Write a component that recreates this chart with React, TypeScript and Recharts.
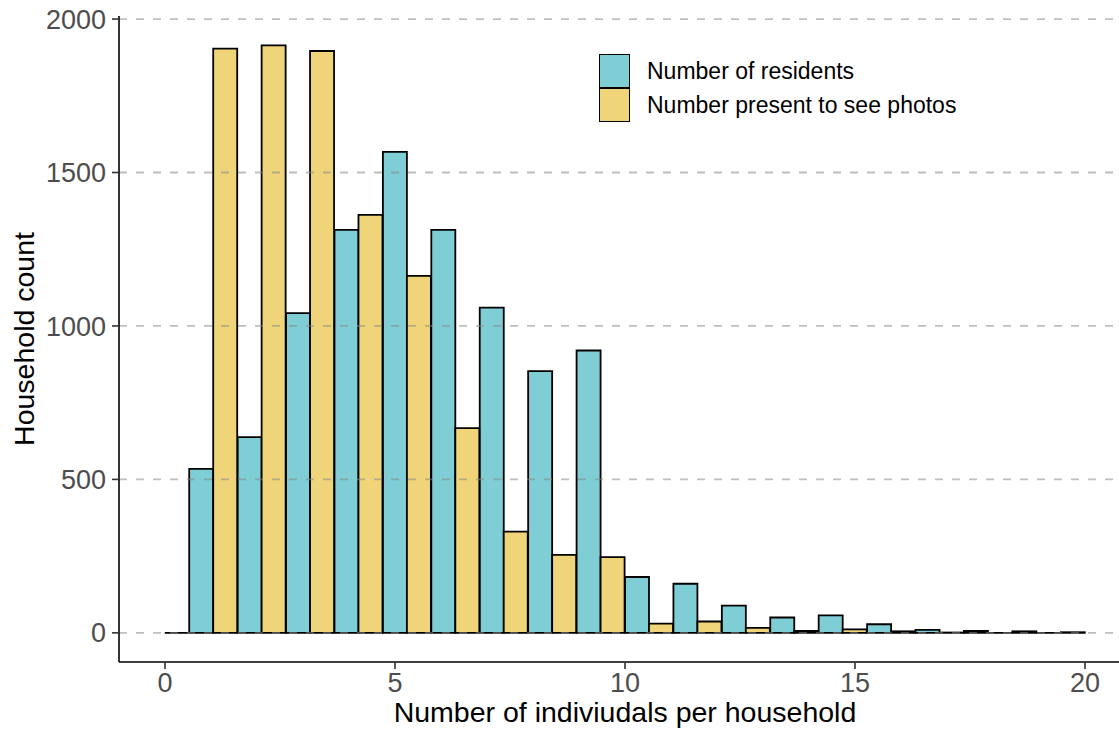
import React from "react";
import {
  BarChart,
  Bar,
  XAxis,
  YAxis,
  Legend,
  ReferenceLine,
} from "recharts";

// histogram bins (bin centres, 20 bins over 0..20)
const binCenters = [0, 1.05, 2.11, 3.16, 4.21, 5.26, 6.32, 7.37, 8.42, 9.47, 10.53, 11.58, 12.63, 13.68, 14.74, 15.79, 16.84, 17.89, 18.95, 20];
const residents = [null, 534, 638, 1042, 1313, 1567, 1313, 1060, 853, 920, 182, 160, 89, 50, 57, 28, 10, 6, 5, 2];
const present = [0, 1904, 1914, 1896, 1362, 1163, 667, 330, 254, 247, 30, 37, 16, 6, 11, 5, 1, 0, 0, null];

const yTicks = [0, 500, 1000, 1500, 2000];
const xTicks = [0, 5, 10, 15, 20];

const TEAL = "#7FCDD5";
const YELLOW = "#EFD47A";
const FONT = "'Liberation Sans', Arial, sans-serif";

const data = binCenters.map((c, i) => ({
  bin: i,
  center: c,
  residents: residents[i],
  present: present[i],
}));

// plot area: 119..1131 horizontally, 22 units wide (-1..21)
const PLOT_W = 1012;
const PAD = (PLOT_W / 22) * (1 - 10 / 19);

const barShape = (key: string) => (props: any) => {
  const { x, y, width, height, fill, payload } = props;
  if (payload == null || payload[key] == null) return <g />;
  const h = height || 0;
  return (
    <path
      d={`M${x},${y + h}V${y}H${x + width}V${y + h}Z`}
      fill={fill}
      stroke="#000"
      strokeWidth={1.8}
    />
  );
};

const LegendBox = () => (
  <div style={{ fontFamily: FONT, fontSize: 23, color: "#000" }}>
    {[
      { name: "Number of residents", color: TEAL },
      { name: "Number present to see photos", color: YELLOW },
    ].map((d) => (
      <div key={d.name} style={{ display: "flex", alignItems: "center", height: 34 }}>
        <div
          style={{
            width: 31,
            height: 34,
            boxSizing: "border-box",
            border: "1.5px solid #000",
            background: d.color,
          }}
        />
        <span style={{ marginLeft: 17, lineHeight: "34px" }}>{d.name}</span>
      </div>
    ))}
  </div>
);

export default function App() {
  return (
    <div style={{ width: 1119, height: 734, overflow: "hidden", position: "relative", background: "#fff" }}>
      <style>{"body{margin:0;overflow:hidden}"}</style>
      <BarChart
        width={1150}
        height={734}
        data={data}
        margin={{ top: 16, right: 19, bottom: 0, left: 0 }}
        barCategoryGap={0}
        barGap={0}
        style={{ fontFamily: FONT }}
      >
        <XAxis xAxisId="cat" dataKey="bin" type="category" hide height={0} padding={{ left: PAD, right: PAD }} />
        <XAxis
          xAxisId="num"
          dataKey="center"
          type="number"
          domain={[-1, 21]}
          allowDataOverflow
          ticks={xTicks}
          height={72}
          tickSize={7}
          tickMargin={4}
          tick={{ fill: "#4d4d4d", fontSize: 27 }}
          axisLine={{ stroke: "#000", strokeWidth: 1.6 }}
          tickLine={{ stroke: "#333", strokeWidth: 1.6 }}
          label={{
            content: () => (
              <text x={625} y={722} textAnchor="middle" fontSize={28.5} fill="#000" fontFamily={FONT}>
                Number of indiviudals per household
              </text>
            ),
          }}
        />
        <YAxis
          type="number"
          domain={[-95, 2010]}
          allowDataOverflow
          ticks={yTicks}
          width={119}
          tickSize={7}
          tickMargin={6}
          tick={{ fill: "#4d4d4d", fontSize: 27 }}
          axisLine={{ stroke: "#000", strokeWidth: 1.6 }}
          tickLine={{ stroke: "#333", strokeWidth: 1.6 }}
          label={{
            content: () => (
              <text
                x={34}
                y={339}
                transform="rotate(-90 34 339)"
                textAnchor="middle"
                fontSize={28.5}
                fill="#000"
                fontFamily={FONT}
              >
                Household count
              </text>
            ),
          }}
        />
        <Bar
          xAxisId="cat"
          dataKey="residents"
          name="Number of residents"
          fill={TEAL}
          shape={barShape("residents")}
          isAnimationActive={false}
        />
        <Bar
          xAxisId="cat"
          dataKey="present"
          name="Number present to see photos"
          fill={YELLOW}
          shape={barShape("present")}
          isAnimationActive={false}
        />
        {yTicks.map((t) => (
          <ReferenceLine
            key={t}
            xAxisId="num"
            y={t}
            stroke="#888"
            strokeOpacity={0.55}
            strokeWidth={1.8}
            strokeDasharray="8 9"
          />
        ))}
        <Legend
          layout="vertical"
          align="center"
          verticalAlign="middle"
          content={() => <LegendBox />}
          wrapperStyle={{ position: "absolute", left: 599, top: 54, width: "auto", height: "auto" }}
        />
      </BarChart>
    </div>
  );
}
